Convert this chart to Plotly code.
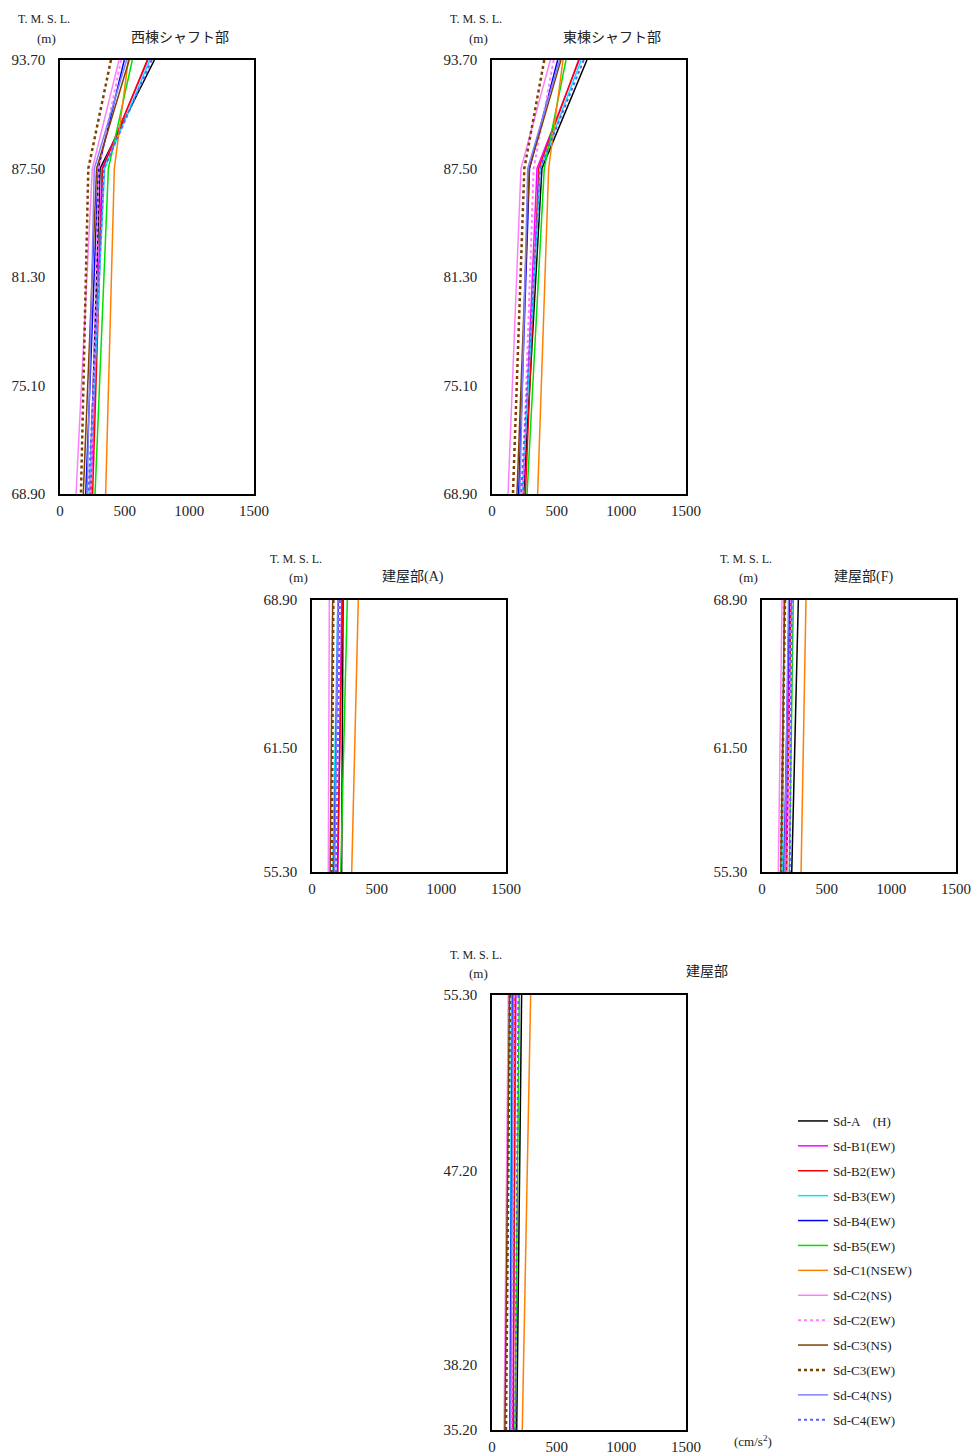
import plotly.graph_objects as go

OFF = 0  # body margin removed by post_script
W, H = 973, 1455

series_names = ["Sd-A\u3000(H)", "Sd-B1(EW)", "Sd-B2(EW)", "Sd-B3(EW)", "Sd-B4(EW)", "Sd-B5(EW)",
                "Sd-C1(NSEW)", "Sd-C2(NS)", "Sd-C2(EW)", "Sd-C3(NS)", "Sd-C3(EW)", "Sd-C4(NS)", "Sd-C4(EW)"]
series_colors = ["#000000", "#ff00ff", "#ff0000", "#00e5ff", "#0000ff", "#00e000",
                 "#ff8000", "#ff80ff", "#ff80ff", "#804000", "#804000", "#8080ff", "#6060ff"]
series_dash = ["solid", "solid", "solid", "solid", "solid", "solid",
               "solid", "solid", "dot", "solid", "dot", "solid", "dot"]
series_width = [1.5, 1.5, 1.5, 1.5, 1.5, 1.5, 1.5, 1.5, 2, 1.5, 2.5, 1.5, 2]

# Panel 1: 西棟シャフト部
p1_elev = [93.70, 87.50, 68.90]
p1_ticks = [93.70, 87.50, 81.30, 75.10, 68.90]
p1_vals = [
    [730, 310, 230], [680, 325, 240], [675, 330, 252], [695, 345, 225], [497, 296, 199],
    [559, 374, 271], [528, 420, 353], [456, 250, 124], [472, 300, 237], [535, 283, 180],
    [394, 219, 162], [515, 265, 210], [709, 340, 220],
]
# Panel 2: 東棟シャフト部
p2_elev = [93.70, 87.50, 68.90]
p2_ticks = [93.70, 87.50, 81.30, 75.10, 68.90]
p2_vals = [
    [734, 386, 245], [675, 348, 240], [670, 361, 258], [690, 374, 232], [508, 290, 206],
    [572, 404, 271], [549, 438, 353], [451, 224, 124], [477, 322, 236], [533, 288, 193],
    [404, 250, 162], [523, 276, 215], [709, 370, 225],
]
# Panel 3: 建屋部(A)
p3_elev = [68.90, 55.30]
p3_ticks = [68.90, 61.50, 55.30]
p3_vals = [
    [240, 229], [230, 200], [237, 196], [200, 160], [204, 170], [273, 222], [358, 307],
    [134, 126], [210, 180], [160, 140], [165, 152], [200, 175], [216, 186],
]
# Panel 4: 建屋部(F)
p4_elev = [68.90, 55.30]
p4_ticks = [68.90, 61.50, 55.30]
p4_vals = [
    [281, 230], [215, 185], [225, 191], [170, 160], [211, 170], [242, 211], [340, 302],
    [155, 126], [225, 195], [175, 145], [178, 147], [205, 175], [230, 215],
]
# Panel 5: 建屋部
p5_elev = [55.30, 35.20]
p5_ticks = [55.30, 47.20, 38.20, 35.20]
p5_vals = [
    [229, 191], [185, 160], [178, 165], [150, 140], [160, 139], [211, 178], [299, 234],
    [126, 93], [170, 150], [135, 100], [139, 108], [165, 145], [204, 180],
]

x_ticks = [0, 500, 1000, 1500]
panel_titles = ["西棟シャフト部", "東棟シャフト部", "建屋部(A)", "建屋部(F)", "建屋部"]

FONT = "Liberation Serif, Noto Sans CJK JP, serif"

# screen-pixel boxes (left, right, top, bottom)
boxes = [(60, 254, 60, 494), (492, 686, 60, 494), (312, 506, 600, 872),
         (762, 956, 600, 872), (492, 686, 995, 1430)]
panels = [(p1_elev, p1_ticks, p1_vals), (p2_elev, p2_ticks, p2_vals), (p3_elev, p3_ticks, p3_vals),
          (p4_elev, p4_ticks, p4_vals), (p5_elev, p5_ticks, p5_vals)]
title_pos = [(180, 37), (612, 37), (413, 577), (863, 577), (707, 972)]
tmsl_pos = [(44, 19), (476, 19), (296, 559), (746, 559), (476, 955)]


def fx(px):
    return (px - OFF) / W


def fy(py):
    return 1 - (py - OFF) / H


fig = go.Figure()
layout = dict(width=W, height=H, margin=dict(l=0, r=0, t=0, b=0, autoexpand=False),
              plot_bgcolor="white", paper_bgcolor="white",
              font=dict(family=FONT, size=14, color="#222"), annotations=[])


def ann(text, px, py, size):
    return dict(text=text, x=fx(px), y=fy(py), xref="paper", yref="paper",
                xanchor="center", yanchor="middle", showarrow=False,
                font=dict(size=size, family=FONT))


for pi, ((elev, ticks, vals), box) in enumerate(zip(panels, boxes)):
    sfx = "" if pi == 0 else str(pi + 1)
    l, r, t, b = box
    layout["xaxis" + sfx] = dict(
        domain=[fx(l), fx(r)], anchor="y" + sfx, range=[0, 1500], tickvals=x_ticks, automargin=False,
        showgrid=False, zeroline=False, showline=True, mirror=True, linecolor="black", linewidth=1.5,
        ticks="outside", ticklen=2, tickcolor="rgba(0,0,0,0)", tickfont=dict(size=15, family=FONT))
    layout["yaxis" + sfx] = dict(
        domain=[fy(b), fy(t)], anchor="x" + sfx, range=[elev[-1], elev[0]], tickvals=ticks,
        tickformat=".2f", showgrid=False, zeroline=False, showline=True, mirror=True, automargin=False,
        linecolor="black", linewidth=1.5, ticks="outside", ticklen=10, tickcolor="rgba(0,0,0,0)",
        tickfont=dict(size=15, family=FONT))
    for si in range(len(series_names)):
        fig.add_trace(go.Scatter(
            x=vals[si], y=elev, mode="lines", name=series_names[si],
            line=dict(color=series_colors[si], dash=series_dash[si], width=series_width[si]),
            xaxis="x" + sfx, yaxis="y" + sfx, showlegend=(pi == 0), legendgroup="g%d" % si))
    tx, ty = title_pos[pi]
    layout["annotations"].append(ann(panel_titles[pi], tx, ty, 14))
    mx, my = tmsl_pos[pi]
    layout["annotations"].append(ann("T. M. S. L.", mx, my, 12))
    layout["annotations"].append(ann("(m)", mx + 2, my + 19, 13))

layout["annotations"].append(ann("(cm/s<sup>2</sup>)", 753, 1441, 13))
layout["legend"] = dict(x=fx(793), y=fy(1106), xanchor="left", yanchor="top",
                        font=dict(size=13, family=FONT), tracegroupgap=5, bgcolor="rgba(0,0,0,0)")
fig.update_layout(**layout)
fig.write_html("out.html", config={"displayModeBar": False},
               post_script="document.body.style.margin='0';document.body.style.overflow='hidden';")
